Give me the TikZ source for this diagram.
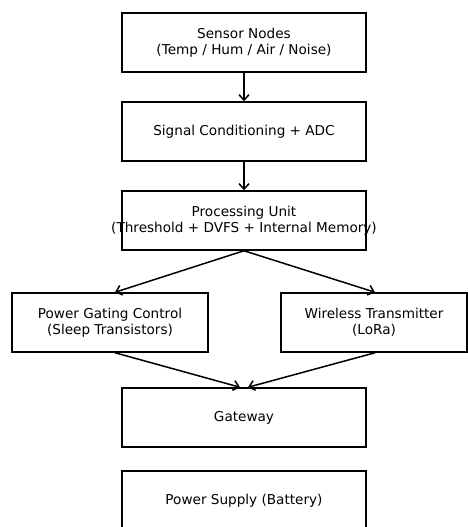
\documentclass[tikz,border=0pt]{standalone}
\usepackage{fontspec}
\setmainfont{DejaVu Sans}
\usetikzlibrary{arrows.meta}
\begin{document}
\begin{tikzpicture}[x=1pt,y=-1pt,
  block/.style={draw=black, line width=1.5pt, fill=white, inner sep=0pt,
    minimum width=244pt, minimum height=59pt, align=center,
    font=\fontsize{13.6pt}{16pt}\selectfont},
  sideblock/.style={block, minimum width=196pt},
  link/.style={line width=1.5pt, -{Straight Barb[length=5.5pt,width=10pt,line width=1.5pt]}}]
\useasboundingbox (0,0) rectangle (468,527);
\node[block] (sensor) at (244,42.5) {Sensor Nodes\\(Temp / Hum / Air / Noise)};
\node[block] (adc) at (244,131.5) {Signal Conditioning + ADC};
\node[block, fill=none] (cpu) at (244,220.5) {Processing Unit\\\makebox[0pt]{(Threshold + DVFS + Internal Memory)}};
\node[sideblock] (gate) at (110,322.5) {Power Gating Control\\(Sleep Transistors)};
\node[sideblock, minimum width=186pt] (radio) at (374,322.5) {Wireless Transmitter\\(LoRa)};
\node[block] (gw) at (244,417.5) {Gateway};
\node[block] (pwr) at (244,500.5) {Power Supply (Battery)};
\draw[link] (sensor.south) -- (adc.north);
\draw[link] (adc.south) -- (cpu.north);
\draw[link] (cpu.south) -- ([xshift=5pt]gate.north);
\draw[link] (cpu.south) -- ([xshift=1pt]radio.north);
\draw[link] ([xshift=5pt]gate.south) -- ([xshift=-4pt]gw.north);
\draw[link] ([xshift=1pt]radio.south) -- ([xshift=4pt]gw.north);
\end{tikzpicture}
\end{document}
